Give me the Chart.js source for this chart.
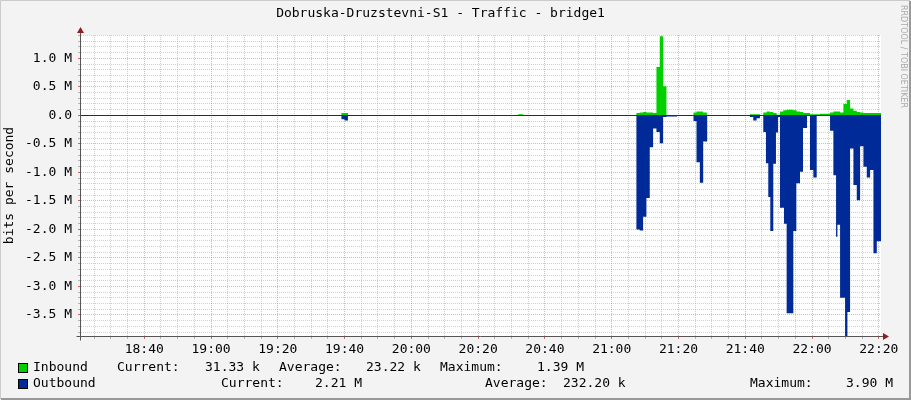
<!DOCTYPE html>
<html>
<head>
<meta charset="utf-8">
<script src="https://cdn.jsdelivr.net/npm/chart.js@4.4.1/dist/chart.umd.min.js"></script>
<style>
  html, body { margin: 0; padding: 0; background: #f3f3f3; }
  #trafficChart { display: block; }
</style>
</head>
<body>
<canvas id="trafficChart" width="911" height="400"></canvas>
<script>
// Tiêu đề và nhãn
const chartTitle = 'Dobruska-Druzstevni-S1 - Traffic - bridge1';
const yAxisTitle = 'bits per second';
const xTickLabels = ['18:40', '19:00', '19:20', '19:40', '20:00', '20:20', '20:40', '21:00', '21:20', '21:40', '22:00', '22:20'];
const yTickLabels = ['1.0 M', '0.5 M', '0.0', '-0.5 M', '-1.0 M', '-1.5 M', '-2.0 M', '-2.5 M', '-3.0 M', '-3.5 M'];

// Inbound: thời điểm (phút trong ngày) và giá trị (M bit/s), dạng bậc thang
const inTimes = [1179, 1181, 1232, 1233.5,
  1267.4, 1268.4, 1269.4, 1270.4, 1271.4, 1272.4, 1273.4, 1274.4, 1275.4, 1276.4,
  1284.5, 1285.4, 1286.4, 1287.4, 1288.5,
  1301.4, 1304.4, 1305.4, 1306.4, 1307.4, 1308.4, 1309.4, 1310.4, 1311.4, 1312.4, 1313.4,
  1314.4, 1315.4, 1316.4, 1317.4, 1319.4, 1322.4, 1325.4, 1326.4, 1327.4, 1328.4, 1329.4,
  1330.4, 1331.4, 1332.4, 1333.4, 1334.4, 1335.4, 1340.66];
const inValues = [0.04, 0, 0.02, 0,
  0.04, 0.05, 0.06, 0.05, 0.05, 0.04, 0.85, 1.39, 0.51, 0,
  0.05, 0.07, 0.07, 0.05, 0,
  0.02, 0, 0.05, 0.07, 0.06, 0.04, 0.01, 0.07, 0.09, 0.1, 0.1,
  0.09, 0.07, 0.06, 0.04, 0.02, 0.03, 0.05, 0.07, 0.07, 0.05, 0.2,
  0.27, 0.12, 0.08, 0.06, 0.05, 0.04, 0.03];

// Outbound: giá trị âm
const outTimes = [1179, 1180, 1181,
  1267.4, 1268.4, 1269.4, 1270.4, 1271.4, 1272.4, 1273.4, 1274.4, 1275.4, 1276.4, 1279.6,
  1284.5, 1285.4, 1286.4, 1287.4, 1288.6,
  1301.4, 1302.4, 1303.4, 1304.4, 1305.4, 1306.2, 1306.9, 1307.5, 1308.4, 1309.2, 1309.8,
  1310.4, 1311.6, 1312.4, 1314.4, 1315.3, 1316.4, 1317.3, 1318.5, 1319.4, 1320.4, 1321.4,
  1325.4, 1326.4, 1327.2, 1327.6, 1328.4, 1329.9, 1330.6, 1331.4, 1332.4, 1333.4, 1334.4,
  1335.4, 1336.4, 1337.4, 1338.4, 1339.4, 1340.66];
const outValues = [-0.07, -0.09, 0,
  -2.0, -2.02, -1.78, -1.45, -0.56, -0.23, -0.29, -0.49, -0.03, -0.02, 0,
  -0.1, -0.82, -1.18, -0.46, 0,
  -0.03, -0.09, -0.05, 0, -0.29, -0.84, -1.43, -2.03, -0.85, -0.3, -0.03,
  -1.62, -1.9, -3.47, -2.03, -1.19, -0.99, -0.22, 0, -0.96, -1.09, 0,
  -0.27, -1.05, -2.13, -1.92, -3.2, -3.88, -3.45, -0.58, -1.22, -1.49, -0.54,
  -0.9, -1.09, -0.96, -2.42, -2.21, -2.21];

// Chú thích
const seriesNames = ['Inbound', 'Outbound'];
const seriesColors = ['#00cf00', '#002a97'];
const seriesCurrent = ['31.33 k', '2.21 M'];
const seriesAverage = ['23.22 k', '232.20 k'];
const seriesMaximum = ['1.39 M', '3.90 M'];

const MONO = "'DejaVu Sans Mono', monospace";
const xMin = 1101.05;
const xMax = 1340.66;
const MAJOR = 'rgba(235,100,100,0.55)';
const MINOR = 'rgba(150,150,150,0.45)';

function toMinutes(label) {
  const p = label.split(':');
  return parseInt(p[0], 10) * 60 + parseInt(p[1], 10);
}
const xTickValues = xTickLabels.map(toMinutes);
const yTickValues = yTickLabels.map(l => parseFloat(l));

function isMajorX(v) { return v % 20 === 0; }
function isMajorY(v) { return Math.abs(v * 2 - Math.round(v * 2)) < 1e-6; }

// Giá trị giữ nguyên cho tới điểm kế tiếp: thêm điểm lặp để vẽ bậc thang
function stepPoints(times, values) {
  const pts = [];
  times.forEach((t, i) => {
    if (i > 0) pts.push({ x: t, y: values[i - 1] });
    pts.push({ x: t, y: values[i] });
  });
  return pts;
}

// Vẽ nền, trục, mũi tên và chú thích kiểu RRDtool
const rrdDecor = {
  id: 'rrdDecor',
  beforeDraw(chart) {
    const { ctx, chartArea: a } = chart;
    ctx.save();
    ctx.fillStyle = '#f3f3f3';
    ctx.fillRect(0, 0, chart.width, chart.height);
    ctx.fillStyle = '#ffffff';
    ctx.fillRect(a.left, a.top, a.right - a.left, a.bottom - a.top);
    ctx.restore();
  },
  afterDatasetsDraw(chart) {
    const { ctx, chartArea: a } = chart;
    const y0 = Math.round(chart.scales.y.getPixelForValue(0)) + 0.5;
    ctx.save();
    // đường 0
    ctx.strokeStyle = '#1c2a6a';
    ctx.lineWidth = 1;
    ctx.beginPath();
    ctx.moveTo(a.left, y0);
    ctx.lineTo(a.right, y0);
    ctx.stroke();
    // trục
    const xl = Math.round(a.left) - 0.5;
    const yb = Math.round(a.bottom) + 0.5;
    ctx.strokeStyle = '#555555';
    ctx.beginPath();
    ctx.moveTo(xl, a.top - 4);
    ctx.lineTo(xl, yb + 4);
    ctx.moveTo(xl - 4, yb);
    ctx.lineTo(a.right + 4, yb);
    ctx.stroke();
    // mũi tên
    ctx.fillStyle = '#8f1f1f';
    ctx.beginPath();
    ctx.moveTo(xl - 3.5, a.top - 2);
    ctx.lineTo(xl + 3.5, a.top - 2);
    ctx.lineTo(xl, a.top - 8);
    ctx.closePath();
    ctx.fill();
    ctx.beginPath();
    ctx.moveTo(a.right + 2, yb - 3.5);
    ctx.lineTo(a.right + 2, yb + 3.5);
    ctx.lineTo(a.right + 8, yb);
    ctx.closePath();
    ctx.fill();
    ctx.restore();
  },
  afterDraw(chart) {
    const ctx = chart.ctx;
    ctx.save();
    // chú thích
    ctx.font = '13px ' + MONO;
    ctx.textBaseline = 'middle';
    ctx.textAlign = 'left';
    const rows = [
      { y: 368, cols: [33, 117, 205, 279, 366, 440, 537] },
      { y: 384, cols: [33, 221, 315, 485, 563, 750, 846] }
    ];
    rows.forEach((r, i) => {
      ctx.fillStyle = seriesColors[i];
      ctx.fillRect(18, r.y - 5, 10, 10);
      ctx.strokeStyle = '#000000';
      ctx.lineWidth = 1;
      ctx.strokeRect(18.5, r.y - 4.5, 9, 9);
      ctx.fillStyle = '#000000';
      const texts = [seriesNames[i], 'Current:', seriesCurrent[i], 'Average:', seriesAverage[i], 'Maximum:', seriesMaximum[i]];
      texts.forEach((t, j) => ctx.fillText(t, r.cols[j], r.y));
    });
    // chữ dọc bên phải
    ctx.save();
    ctx.translate(903, 5);
    ctx.rotate(Math.PI / 2);
    ctx.font = "8px 'DejaVu Sans', sans-serif";
    ctx.fillStyle = '#a8a8a8';
    ctx.textBaseline = 'middle';
    ctx.fillText('RRDTOOL / TOBI OETIKER', 0, 0);
    ctx.restore();
    // khung viền
    ctx.strokeStyle = '#cbcbcb';
    ctx.beginPath();
    ctx.moveTo(0.5, 399); ctx.lineTo(0.5, 0.5); ctx.lineTo(910, 0.5);
    ctx.stroke();
    ctx.strokeStyle = '#999999';
    ctx.lineWidth = 2;
    ctx.beginPath();
    ctx.moveTo(1, 399); ctx.lineTo(910, 399); ctx.lineTo(910, 1);
    ctx.stroke();
    ctx.restore();
  }
};

const ctx = document.getElementById('trafficChart').getContext('2d');

new Chart(ctx, {
  type: 'line',
  data: {
    datasets: [{
      label: seriesNames[0],
      data: stepPoints(inTimes, inValues),
      fill: 'origin',
      backgroundColor: seriesColors[0],
      borderWidth: 0,
      pointRadius: 0
    }, {
      label: seriesNames[1],
      data: stepPoints(outTimes, outValues),
      fill: 'origin',
      backgroundColor: seriesColors[1],
      borderWidth: 0,
      pointRadius: 0
    }]
  },
  options: {
    responsive: false,
    animation: false,
    devicePixelRatio: 1,
    layout: { padding: { left: 0, right: 30, top: 0, bottom: 0 } },
    plugins: {
      legend: { display: false },
      tooltip: { enabled: false },
      title: {
        display: true,
        text: chartTitle,
        color: '#000000',
        font: { family: MONO, size: 13, weight: 'normal' },
        padding: { top: 6, bottom: 13.4 }
      }
    },
    scales: {
      x: {
        type: 'linear',
        min: xMin,
        max: xMax,
        afterFit(scale) { scale.height = 64; },
        afterBuildTicks(scale) {
          const ticks = [];
          for (let v = Math.ceil(xMin / 5) * 5; v <= xMax; v += 5) ticks.push({ value: v });
          scale.ticks = ticks;
        },
        ticks: {
          autoSkip: false,
          maxRotation: 0,
          padding: 3,
          color: '#000000',
          font: { family: MONO, size: 13 },
          callback(v) {
            const i = xTickValues.indexOf(v);
            return i >= 0 ? xTickLabels[i] : '';
          }
        },
        grid: {
          drawTicks: true,
          tickLength: 3,
          color(c) { return c.tick && isMajorX(c.tick.value) ? MAJOR : MINOR; },
          tickColor(c) { return c.tick && isMajorX(c.tick.value) ? 'rgba(220,60,60,0.8)' : 'rgba(140,140,140,0.6)'; }
        },
        border: { display: false, dash: [1, 1] }
      },
      y: {
        min: -3.87,
        max: 1.41,
        afterFit(scale) { scale.width = 81; },
        afterBuildTicks(scale) {
          const ticks = [];
          for (let k = -38; k <= 14; k++) ticks.push({ value: k / 10 });
          scale.ticks = ticks;
        },
        ticks: {
          autoSkip: false,
          padding: 6,
          color: '#000000',
          font: { family: MONO, size: 13 },
          callback(v) {
            const i = yTickValues.findIndex(t => Math.abs(t - v) < 1e-6);
            return i >= 0 ? yTickLabels[i] : '';
          }
        },
        grid: {
          drawTicks: true,
          tickLength: 3,
          color(c) { return c.tick && isMajorY(c.tick.value) ? MAJOR : MINOR; },
          tickColor(c) { return c.tick && isMajorY(c.tick.value) ? 'rgba(220,60,60,0.8)' : 'rgba(140,140,140,0.6)'; }
        },
        border: { display: false, dash: [1, 1] },
        title: {
          display: true,
          text: yAxisTitle,
          color: '#000000',
          font: { family: MONO, size: 13 },
          padding: { top: 2, bottom: 0 }
        }
      }
    }
  },
  plugins: [rrdDecor]
});
</script>
</body>
</html>
